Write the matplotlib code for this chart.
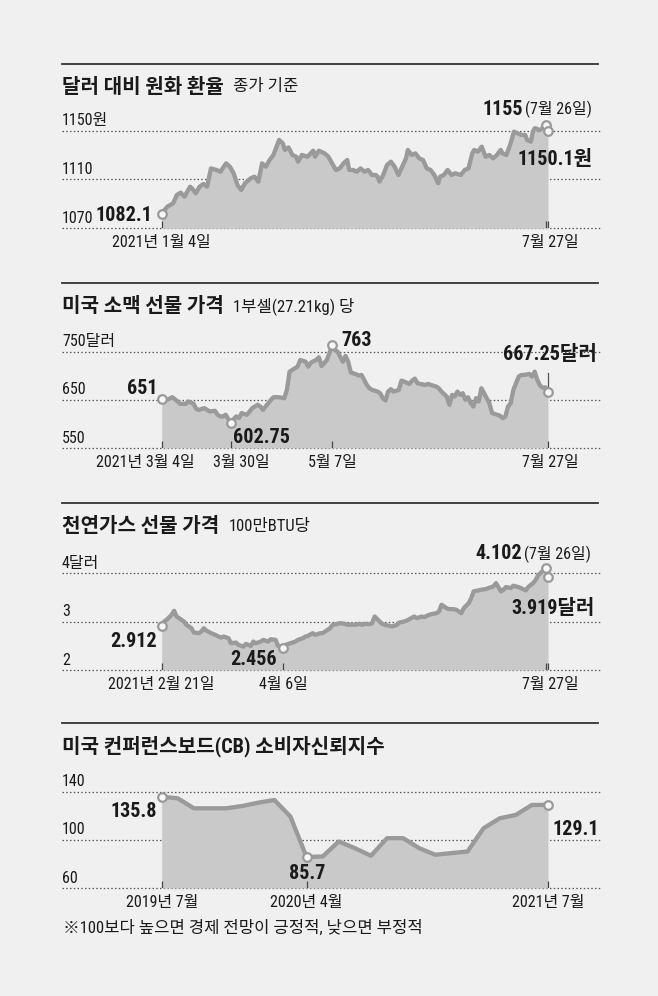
import matplotlib
matplotlib.use("Agg")
import matplotlib.pyplot as plt
from matplotlib.lines import Line2D
from matplotlib import font_manager
import numpy as np

# ---- data (x = days from first date) ----
krw_days = [0, 3, 6, 8, 10, 12, 15, 16, 18, 20, 22, 24, 26, 29, 31, 34, 36, 38, 40, 42,
            44, 47, 49, 51, 53, 55, 57, 59, 62, 64, 65, 67, 69, 71, 72, 74, 77, 80, 81, 83,
            86, 88, 90, 92, 94, 96, 98, 99, 101, 103, 105, 107, 109, 111, 113, 114, 115, 117, 119, 121,
            123, 125, 127, 129, 130, 132, 134, 136, 138, 140, 142, 144, 146, 147, 149, 151, 153, 155, 158, 160,
            162, 164, 165, 167, 169, 171, 173, 175, 177, 179, 180, 182, 184, 186, 188, 190, 192, 193, 195, 196,
            197, 198, 199, 200, 203, 204]
krw_vals = [1082.1, 1087.7, 1090.5, 1097.3, 1099.2, 1095.9, 1104.1, 1102.8, 1098.7, 1104.1,
            1106.3, 1104.1, 1119.1, 1117.8, 1116.4, 1123.2, 1120.5, 1115.1, 1105.5, 1101.4,
            1106.9, 1111.0, 1112.3, 1108.2, 1123.2, 1120.5, 1126.0, 1130.1, 1142.4, 1139.6,
            1134.2, 1136.3, 1130.1, 1128.7, 1124.6, 1130.1, 1128.7, 1133.6, 1128.7, 1133.6,
            1131.4, 1128.7, 1123.2, 1117.8, 1119.1, 1123.2, 1126.0, 1117.8, 1117.8, 1116.4,
            1119.1, 1116.4, 1117.8, 1113.7, 1113.7, 1112.3, 1108.2, 1113.7, 1121.9, 1124.6,
            1120.5, 1113.7, 1120.5, 1127.3, 1134.2, 1130.1, 1131.4, 1127.3, 1126.0, 1119.1,
            1117.8, 1113.7, 1106.9, 1112.3, 1113.7, 1117.8, 1113.7, 1115.1, 1113.7, 1117.8,
            1119.1, 1131.4, 1134.2, 1132.8, 1136.9, 1128.7, 1130.1, 1127.3, 1130.1, 1134.2,
            1131.4, 1130.1, 1138.3, 1149.2, 1147.8, 1146.5, 1146.5, 1142.4, 1141.0, 1149.2,
            1152.0, 1151.8, 1150.3, 1150.8, 1155.0, 1150.1]
krw_ticks = [0, 203, 204]
krw_tick_labels = {0: "2021년 1월 4일", 204: "7월 27일"}

wheat_days = [0, 2, 4, 6, 7, 9, 10, 12, 13, 14, 16, 17, 18, 20, 21, 22, 23, 24, 25, 26,
              27, 28, 29, 30, 32, 33, 34, 36, 37, 38, 40, 41, 42, 44, 46, 47, 48, 50, 51, 52,
              54, 55, 56, 58, 59, 60, 62, 63, 64, 65, 66, 68, 69, 70, 71, 73, 74, 75, 77, 78,
              79, 81, 82, 83, 84, 85, 86, 87, 89, 90, 91, 93, 94, 95, 96, 97, 99, 100, 101, 103,
              104, 105, 107, 108, 109, 110, 111, 112, 113, 114, 115, 116, 117, 118, 119, 120, 121, 123, 124, 126,
              127, 128, 129, 130, 131, 132, 134, 135, 136, 138, 139, 140, 141, 142, 143, 144, 145]
wheat_vals = [651.0, 650.0, 655.5, 646.6, 641.7, 641.7, 646.6, 641.7, 630.7, 629.3,
              632.8, 629.3, 625.9, 627.2, 619.0, 615.5, 615.5, 619.0, 610.0, 602.75,
              610.0, 615.5, 612.1, 622.4, 619.0, 625.9, 632.8, 639.7, 636.2, 629.3,
              643.1, 650.0, 655.5, 655.5, 653.4, 670.7, 708.6, 715.5, 719.0, 732.8,
              729.3, 719.0, 727.3, 732.8, 738.3, 720.4, 732.8, 747.9, 763.0, 753.5,
              750.0, 729.3, 741.0, 729.3, 706.6, 703.1, 700.4, 701.7, 681.0, 674.1,
              670.7, 667.2, 663.8, 653.4, 648.6, 667.2, 672.1, 667.2, 670.7, 690.0,
              687.9, 683.1, 690.0, 694.1, 684.5, 683.1, 681.0, 683.1, 681.0, 677.6,
              674.1, 667.2, 656.9, 639.7, 660.4, 656.9, 667.2, 660.4, 663.8, 650.0,
              655.5, 643.1, 636.2, 653.4, 646.6, 674.1, 663.8, 643.1, 622.4, 619.0,
              616.9, 612.1, 615.5, 636.2, 643.1, 670.7, 698.3, 701.7, 701.7, 703.8,
              698.3, 708.6, 691.4, 680.0, 675.0, 676.0, 667.25]
wheat_ticks = [0, 26, 64, 145]
wheat_tick_labels = {0: "2021년 3월 4일", 26: "3월 30일", 64: "5월 7일", 145: "7월 27일"}

gas_days = [0, 1, 2, 4, 5, 6, 7, 9, 10, 12, 13, 15, 16, 17, 18, 20, 21, 23, 24, 25,
            27, 28, 30, 31, 33, 34, 36, 37, 38, 40, 41, 43, 44, 46, 47, 49, 50, 52, 54, 55,
            57, 58, 59, 61, 62, 64, 65, 67, 68, 69, 71, 72, 74, 75, 77, 78, 80, 81, 82, 84,
            85, 86, 88, 89, 90, 92, 93, 95, 96, 98, 99, 100, 102, 103, 105, 106, 108, 109, 111, 112,
            113, 115, 116, 118, 119, 121, 122, 124, 125, 126, 128, 129, 131, 132, 134, 135, 137, 138, 139, 141,
            142, 144, 145, 147, 148, 150, 151, 152, 154, 155, 156]
gas_vals = [2.912, 3.000, 3.034, 3.138, 3.221, 3.103, 3.069, 3.000, 2.931, 2.862,
            2.772, 2.759, 2.793, 2.862, 2.814, 2.759, 2.738, 2.690, 2.669, 2.690,
            2.655, 2.552, 2.566, 2.517, 2.483, 2.538, 2.497, 2.586, 2.552, 2.586,
            2.621, 2.586, 2.634, 2.621, 2.497, 2.456, 2.517, 2.552, 2.586, 2.621,
            2.655, 2.690, 2.703, 2.759, 2.724, 2.759, 2.759, 2.828, 2.862, 2.931,
            2.952, 2.966, 2.952, 2.931, 2.938, 2.931, 2.952, 2.931, 2.952, 2.945,
            2.966, 3.103, 3.000, 2.952, 2.931, 2.910, 2.897, 2.931, 2.979, 3.000,
            3.021, 3.048, 3.103, 3.069, 3.103, 3.090, 3.138, 3.152, 3.172, 3.207,
            3.345, 3.276, 3.255, 3.255, 3.241, 3.172, 3.276, 3.379, 3.483, 3.621,
            3.641, 3.655, 3.669, 3.690, 3.724, 3.793, 3.621, 3.655, 3.710, 3.690,
            3.738, 3.710, 3.690, 3.641, 3.710, 3.793, 3.855, 3.952, 4.050, 4.102, 3.919]
gas_ticks = [0, 49, 155, 156]
gas_tick_labels = {0: "2021년 2월 21일", 49: "4월 6일", 156: "7월 27일"}

cb_months = list(range(25))   # 2019-07 .. 2021-07
cb_vals = [135.8, 134.5, 126.2, 126.2, 126.2, 128.1, 130.9, 133.1, 119.3, 85.7,
           86.2, 98.6, 93.1, 86.8, 101.4, 101.4, 93.1, 87.6, 89.0, 90.3,
           109.7, 117.9, 120.7, 129.0, 129.1]
cb_ticks = [0, 9, 24]
cb_tick_labels = {0: "2019년 7월", 9: "2020년 4월", 24: "2021년 7월"}

# ---- style ----
BG = "#f0f0f0"
FILL = "#c9c9c9"
LINE = "#9a9a9a"
INK = "#1a1a1a"
GRID = "#555555"

# condensed digits like the print original, Korean from Noto
names = {f.name for f in font_manager.fontManager.ttflist}
cond = next((n for n in ["Roboto Condensed", "Liberation Sans Narrow", "Open Sans Condensed"]
             if n in names), None)
FONT = ([cond] if cond else []) + ["Noto Sans CJK KR", "DejaVu Sans"]
plt.rcParams["font.family"] = FONT
plt.rcParams["text.color"] = INK

W, H = 658, 996
fig = plt.figure(figsize=(W / 100, H / 100), dpi=100, facecolor=BG)
renderer = fig.canvas.get_renderer()


def fx(px):
    return px / W


def fy(py):
    return 1 - py / H


X0, X1 = 161.7, 548      # pixel span of the data
L, R = 62, 600           # pixel span of gridlines


def panel(rule_y, title, subtitle, grid_vals, grid_px, ylabels, xmax):
    fig.add_artist(Line2D([fx(62), fx(598)], [fy(rule_y)] * 2, color="#333333", lw=1.3))
    t = fig.text(fx(62), fy(rule_y + 23), title, fontsize=14.5, weight="bold",
                 ha="left", va="center")
    if subtitle:
        bb = t.get_window_extent(renderer)
        fig.text((bb.x1 + 9) / W, fy(rule_y + 23), subtitle, fontsize=12,
                 ha="left", va="center")
    top_px, bot_px = grid_px
    vtop, vbot = grid_vals[0], grid_vals[-1]
    sy = (bot_px - top_px) / (vtop - vbot)
    T, B = top_px - 40, bot_px
    ax = fig.add_axes([fx(L), fy(B), (R - L) / W, (B - T) / H])
    ax.set_ylim(vbot, vbot + (B - T) / sy)
    sx = (X1 - X0) / xmax
    ax.set_xlim(-(X0 - L) / sx, xmax + (R - X1) / sx)
    ax.axis("off")
    ax.patch.set_alpha(0)
    for v, lab in zip(grid_vals, ylabels):
        ax.axhline(v, color=GRID, lw=0.9, ls=(0, (1.2, 1.8)), zorder=1, clip_on=False)
        ax.annotate(lab, xy=(0, v), xycoords=("axes fraction", "data"), xytext=(0, 5.5),
                    textcoords="offset pixels", ha="left", va="baseline", fontsize=11.5)
    return ax, vbot, sy


def draw_series(ax, x, y, vbot, sy, marks, ticks, tick_labels, label_dx):
    x = np.asarray(x, float)
    y = np.asarray(y, float)
    ax.fill_between(x, y, vbot, color=FILL, lw=0, zorder=2)
    ax.plot(x, y, color=LINE, lw=3.1, solid_joinstyle="round", solid_capstyle="round", zorder=3)
    ax.plot(x[marks], y[marks], "o", ms=6.2, mfc="#f7f7f7", mec=LINE, mew=1.6, zorder=4,
            clip_on=False)
    ax.vlines(ticks, vbot, vbot + 7 / sy, color="#444444", lw=0.9, zorder=3)
    for t, lab in tick_labels.items():
        ax.annotate(lab, xy=(t, vbot), xytext=(label_dx.get(t, 0), -14),
                    textcoords="offset pixels", ha="center", va="center", fontsize=11.5)
    return x, y


def note(ax, text, xy, off, ha, bold=True, size=14.5):
    return ax.annotate(text, xy=xy, xytext=off, textcoords="offset pixels", ha=ha,
                       va="baseline", fontsize=size, weight="bold" if bold else "normal",
                       annotation_clip=False)


def note_pair(ax, big, small, xy, off):
    # bold value followed by a lighter date, both on one baseline
    s = ax.annotate(small, xy=xy, xytext=off, textcoords="offset pixels", ha="right",
                    va="baseline", fontsize=11.5, annotation_clip=False)
    bb = s.get_window_extent(renderer)
    pos = ax.transData.transform(xy)
    fig.text((bb.x0 - 2) / W, (pos[1] + off[1]) / H, big, fontsize=14.5, weight="bold",
             ha="right", va="baseline")


# ---- panel 1: won per dollar ----
ax, vb, sy = panel(64, "달러 대비 원화 환율", "종가 기준", [1150, 1110, 1070], (130.7, 228.3),
                   ["1150원", "1110", "1070"], krw_days[-1])
imax = int(np.argmax(krw_vals))
kx, ky = draw_series(ax, krw_days, krw_vals, vb, sy, [0, imax, len(krw_vals) - 1],
                     krw_ticks, krw_tick_labels, {204: 2})
note(ax, "1082.1", (kx[0], ky[0]), (-9, -7.6), "right")
note_pair(ax, "1155", "(7월 26일)", (kx[imax], ky[imax]), (46, 10))
note(ax, "1150.1원", (kx[-1], ky[-1]), (45, -34), "right")

# ---- panel 2: wheat futures ----
ax, vb, sy = panel(283, "미국 소맥 선물 가격", "1부셀(27.21kg) 당", [750, 650, 550], (351.7, 448),
                   ["750달러", "650", "550"], wheat_days[-1])
imin, imax = int(np.argmin(wheat_vals)), int(np.argmax(wheat_vals))
wx, wy = draw_series(ax, wheat_days, wheat_vals, vb, sy,
                     [0, imin, imax, len(wheat_vals) - 1],
                     wheat_ticks, wheat_tick_labels, {0: -16, 26: 10, 145: 2})
note(ax, "651", (wx[0], wy[0]), (-4, 5), "right")
note(ax, "602.75", (wx[imin], wy[imin]), (2, -20), "left")
note(ax, "763", (wx[imax], wy[imax]), (9, -1), "left")
note(ax, "667.25달러", (wx[-1], wy[-1]), (49, 32), "right")
ax.plot([wx[-1], wx[-1]], [wy[-1] + 5 / sy, wy[-1] + 19 / sy], color="#555555", lw=0.9, zorder=3)

# ---- panel 3: natural gas futures ----
ax, vb, sy = panel(503, "천연가스 선물 가격", "100만BTU당", [4, 3, 2], (573, 670),
                   ["4달러", "3", "2"], gas_days[-1])
imin, imax = int(np.argmin(gas_vals)), int(np.argmax(gas_vals))
gx, gy = draw_series(ax, gas_days, gas_vals, vb, sy,
                     [0, imin, imax, len(gas_vals) - 1],
                     gas_ticks, gas_tick_labels, {156: 2})
note(ax, "2.912", (gx[0], gy[0]), (-5, -21.5), "right")
note(ax, "2.456", (gx[imin], gy[imin]), (-6, -17.5), "right")
note_pair(ax, "4.102", "(7월 26일)", (gx[imax], gy[imax]), (45.5, 9))
note(ax, "3.919달러", (gx[-1], gy[-1]), (47, -37.5), "right")

# ---- panel 4: CB consumer confidence ----
ax, vb, sy = panel(723, "미국 컨퍼런스보드(CB) 소비자신뢰지수", None, [140, 100, 60], (791.7, 888),
                   ["140", "100", "60"], cb_months[-1])
imin = int(np.argmin(cb_vals))
cx, cy = draw_series(ax, cb_months, cb_vals, vb, sy, [0, imin, len(cb_vals) - 1],
                     cb_ticks, cb_tick_labels, {})
note(ax, "135.8", (cx[0], cy[0]), (-5, -20.5), "right")
note(ax, "85.7", (cx[imin], cy[imin]), (1, -22), "center")
note(ax, "129.1", (cx[-1], cy[-1]), (4, -30.5), "left")

fig.text(fx(63), fy(928), "※100보다 높으면 경제 전망이 긍정적, 낮으면 부정적", fontsize=12,
         ha="left", va="center")

fig.savefig("out.png", dpi=100, facecolor=BG)
